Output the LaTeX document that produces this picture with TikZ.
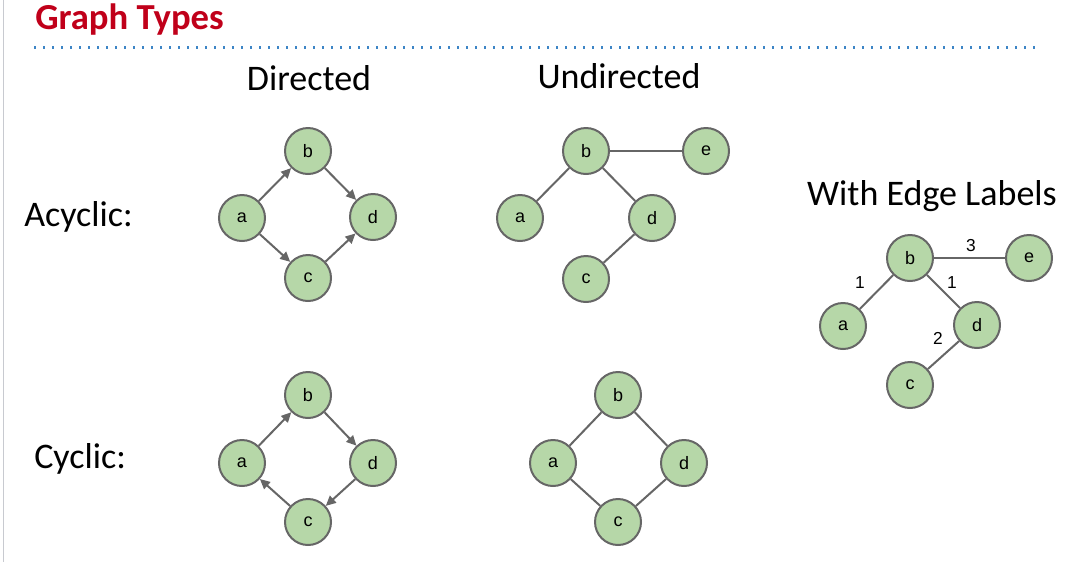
\documentclass[tikz,border=0pt]{standalone}
\usepackage{fontspec}
\setmainfont{Carlito}
\newfontfamily\nodefont{Liberation Sans}
\usetikzlibrary{arrows.meta}
\definecolor{nodefill}{HTML}{B6D7A8}
\definecolor{edgegray}{HTML}{666666}
\definecolor{titlered}{HTML}{C0001A}
\definecolor{dotblue}{HTML}{3D85C6}
\definecolor{framegray}{HTML}{C8CAD0}
\begin{document}
\begin{tikzpicture}[x=0.75pt,y=-0.75pt,
  vertex/.style={circle,draw=edgegray,fill=nodefill,line width=1.5pt,
    minimum size=34.5pt,inner sep=0pt,font=\nodefont\fontsize{13.5}{15}\selectfont},
  link/.style={draw=edgegray,line width=1.5pt},
  arc/.style={link,-{Triangle[length=7.5pt,width=7pt]}},
  heading/.style={font=\fontsize{27}{31}\selectfont,anchor=base,inner sep=0pt},
  elabel/.style={font=\nodefont\fontsize{13}{15}\selectfont,inner sep=0pt}]
\useasboundingbox (0,0) rectangle (1070,562);

% page frame and title
\draw[framegray,line width=0.75pt] (3,0) -- (3,562);
\node[anchor=base west,inner sep=0pt,text=titlered,
  font=\bfseries\fontsize{27.5}{31}\selectfont] (title) at (35,29) {Graph Types};
\draw[dotblue,line width=1.7pt,dash pattern=on 1.7pt off 5.05pt] (34,47.5) -- (1040,47.5);

% column and row headings
\node[heading] (hdir) at (309,90) {Directed};
\node[heading] (hund) at (619,88) {Undirected};
\node[heading] (hlab) at (932,205) {With Edge Labels};
\node[heading,anchor=base west] (hacy) at (24,226) {Acyclic:};
\node[heading,anchor=base west] (hcyc) at (34,468) {Cyclic:};

% directed, acyclic
\node[vertex] (da) at (242,218) {a};
\node[vertex] (db) at (308,151) {b};
\node[vertex] (dc) at (308,278) {c};
\node[vertex] (dd) at (373,217) {d};
\draw[arc] (da) -- (db);
\draw[arc] (da) -- (dc);
\draw[arc] (db) -- (dd);
\draw[arc] (dc) -- (dd);

% undirected, acyclic
\node[vertex] (ua) at (520,218) {a};
\node[vertex] (ub) at (586,151) {b};
\node[vertex] (uc) at (586,279) {c};
\node[vertex] (ud) at (652,218) {d};
\node[vertex] (ue) at (706,151) {e};
\draw[link] (ub) -- (ue);
\draw[link] (ub) -- (ua);
\draw[link] (ub) -- (ud);
\draw[link] (ud) -- (uc);

% with edge labels
\node[vertex] (la) at (843,326) {a};
\node[vertex] (lb) at (910,258) {b};
\node[vertex] (lc) at (910,385) {c};
\node[vertex] (ld) at (977,325) {d};
\node[vertex] (le) at (1029,258) {e};
\draw[link] (lb) -- (le);
\draw[link] (lb) -- (la);
\draw[link] (lb) -- (ld);
\draw[link] (ld) -- (lc);
\node[elabel] (w3) at (971,246) {3};
\node[elabel] (w1a) at (860,283) {1};
\node[elabel] (w1b) at (952,283) {1};
\node[elabel] (w2) at (938,338) {2};

% directed, cyclic
\node[vertex] (ca) at (242,463) {a};
\node[vertex] (cb) at (308,395) {b};
\node[vertex] (cc) at (308,522) {c};
\node[vertex] (cd) at (373,463) {d};
\draw[arc] (ca) -- (cb);
\draw[arc] (cb) -- (cd);
\draw[arc] (cd) -- (cc);
\draw[arc] (cc) -- (ca);

% undirected, cyclic
\node[vertex] (va) at (553,463) {a};
\node[vertex] (vb) at (618,395) {b};
\node[vertex] (vc) at (618,522) {c};
\node[vertex] (vd) at (684,463) {d};
\draw[link] (va) -- (vb);
\draw[link] (vb) -- (vd);
\draw[link] (vd) -- (vc);
\draw[link] (vc) -- (va);
\end{tikzpicture}
\end{document}
